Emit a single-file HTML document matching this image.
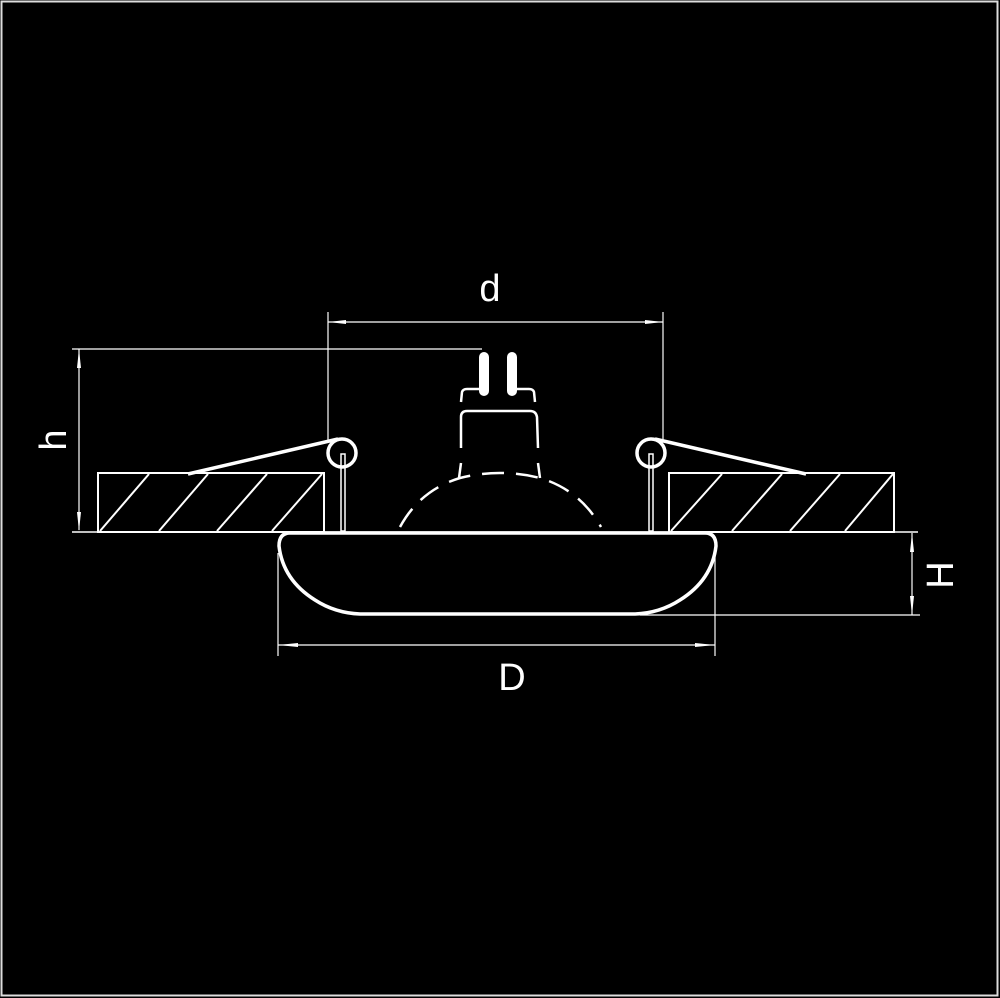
<!DOCTYPE html>
<html><head><style>
html,body{margin:0;padding:0;background:#000;}
svg{display:block;}
</style></head><body>
<svg width="1000" height="998" viewBox="0 0 1000 998" xmlns="http://www.w3.org/2000/svg">
<rect x="0" y="0" width="1000" height="998" fill="#000"/>
<rect x="1.5" y="1.5" width="996" height="994" fill="none" stroke="#ddd" stroke-width="2"/>
<g stroke="#fff" fill="none">
<!-- floor line -->
<line x1="72" y1="532" x2="918" y2="532" stroke-width="1.5"/>
<!-- left box -->
<rect x="98" y="473" width="226" height="59" stroke-width="2"/>
<g stroke-width="2">
<line x1="100" y1="531" x2="149" y2="474"/>
<line x1="159" y1="531" x2="208" y2="474"/>
<line x1="217" y1="531" x2="267" y2="474"/>
<line x1="272" y1="531" x2="322" y2="474"/>
</g>
<!-- right box -->
<rect x="669" y="473" width="225" height="59" stroke-width="2"/>
<g stroke-width="2">
<line x1="671" y1="531" x2="722" y2="474"/>
<line x1="732" y1="531" x2="782" y2="474"/>
<line x1="790" y1="531" x2="840" y2="474"/>
<line x1="845" y1="531" x2="893" y2="474"/>
</g>
<!-- springs -->
<line x1="188" y1="474" x2="338" y2="439" stroke-width="3.5"/>
<circle cx="342" cy="453" r="14" stroke-width="3.5"/>
<rect x="341" y="454" width="4" height="77" stroke-width="1.5"/>
<line x1="806" y1="474" x2="655" y2="439" stroke-width="3.5"/>
<circle cx="651" cy="453" r="14" stroke-width="3.5"/>
<rect x="649" y="454" width="4" height="77" stroke-width="1.5"/>
<!-- lamp -->
<rect x="479" y="352" width="10" height="44" rx="5" fill="#fff" stroke="none"/>
<rect x="507" y="352" width="10" height="44" rx="5" fill="#fff" stroke="none"/>
<path d="M461 402 L462 392 Q463 389 467 389 L480 389" stroke-width="2.5"/>
<path d="M535 402 L534 392 Q533 389 529 389 L516 389" stroke-width="2.5"/>
<path d="M461 448 L461 417 Q461 411 467 411 L530 411 Q536 411 537 417 L538 448" stroke-width="2.5"/>
<path d="M461 463 L459 478 M538 463 L540 478" stroke-width="2.5"/>
<path d="M400 527 Q420 490 460 478 Q500 468 540 478 Q580 490 601 527" stroke-width="2.5" stroke-dasharray="22 12"/>
<!-- body -->
<path d="M290 533 L705 533 Q716 533 716 546 Q712 580 680 600 Q660 613 635 614 L360 614 Q335 613 315 600 Q283 580 279 546 Q279 533 290 533 Z" stroke-width="3.5" fill="#000"/>
<!-- dims -->
<g stroke-width="1.2">
<line x1="278" y1="553" x2="278" y2="656"/>
<line x1="715" y1="553" x2="715" y2="656"/>
<line x1="278" y1="645" x2="715" y2="645"/>
<line x1="328" y1="312" x2="328" y2="440"/>
<line x1="663" y1="312" x2="663" y2="440"/>
<line x1="328" y1="322" x2="663" y2="322"/>
<line x1="72" y1="349" x2="482" y2="349"/>
<line x1="79" y1="349" x2="79" y2="530"/>
<line x1="912" y1="533" x2="912" y2="615"/>
<line x1="640" y1="615" x2="920" y2="615"/>
</g>
<g fill="#fff" stroke="none">
<polygon points="278,645 298,643 298,647"/>
<polygon points="715,645 695,643 695,647"/>
<polygon points="328,322 346,320 346,324"/>
<polygon points="663,322 645,320 645,324"/>
<polygon points="79,349 77,368 81,368"/>
<polygon points="79,531 77,512 81,512"/>
<polygon points="912,533 910,552 914,552"/>
<polygon points="912,615 910,596 914,596"/>
</g>
</g>
<g fill="#fff" font-family="Liberation Sans, sans-serif" font-size="38" text-anchor="middle">
<text x="490" y="301">d</text>
<text x="512" y="690">D</text>
<text transform="translate(66,440) rotate(-90)">h</text>
<text transform="translate(953,575) rotate(-90)">H</text>
</g>
</svg>
</body></html>
